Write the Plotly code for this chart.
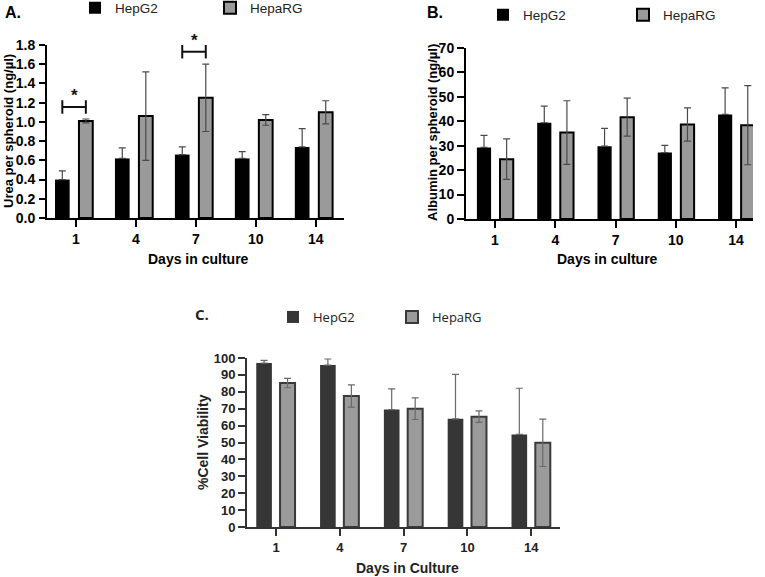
import plotly.graph_objects as go

W, H = 765, 577

days = ["1", "4", "7", "10", "14"]
series_names = ["HepG2", "HepaRG"]

urea_hepg2 = [0.40, 0.62, 0.66, 0.62, 0.74]
urea_hepg2_err = [0.09, 0.11, 0.08, 0.07, 0.19]
urea_heparg = [1.01, 1.06, 1.25, 1.02, 1.10]
urea_heparg_err = [0.02, 0.46, 0.35, 0.055, 0.12]

alb_hepg2 = [29.3, 39.4, 29.8, 27.2, 42.8]
alb_hepg2_err = [4.9, 6.8, 7.3, 2.9, 10.9]
alb_heparg = [24.5, 35.4, 41.7, 38.7, 38.4]
alb_heparg_err = [8.3, 13.0, 7.8, 6.8, 16.2]

via_hepg2 = [97.0, 95.8, 69.5, 64.0, 54.8]
via_hepg2_err = [1.6, 3.6, 12.2, 26.3, 27.3]
via_heparg = [85.2, 77.5, 70.0, 65.3, 49.8]
via_heparg_err = [2.8, 6.6, 6.4, 3.4, 14.0]

# significance brackets on panel A: (day, bracket level, label)
urea_sig = [("1", 1.155, "*"), ("7", 1.73, "*")]

def px(x):
    return x / W

def py(y):
    return 1 - y / H

fig = go.Figure()

panels = [
    dict(key="", legend="legend", data=(urea_hepg2, urea_hepg2_err, urea_heparg, urea_heparg_err),
         c1="#000000", c2="#9a9a9a", line2="#000000", err="#4a4a4a",
         off1=-0.35, w1=0.245, off2=0.05, w2=0.23),
    dict(key="2", legend="legend2", data=(alb_hepg2, alb_hepg2_err, alb_heparg, alb_heparg_err),
         c1="#000000", c2="#9a9a9a", line2="#000000", err="#4a4a4a",
         off1=-0.30, w1=0.235, off2=0.083, w2=0.22),
    dict(key="3", legend="legend3", data=(via_hepg2, via_hepg2_err, via_heparg, via_heparg_err),
         c1="#363636", c2="#9b9b9b", line2="#3a3a3a", err="#6a6a6a",
         off1=-0.31, w1=0.245, off2=0.063, w2=0.235),
]

for p in panels:
    v1, e1, v2, e2 = p["data"]
    fig.add_trace(go.Bar(
        x=days, y=v1, name=series_names[0], legend=p["legend"],
        xaxis="x" + p["key"], yaxis="y" + p["key"],
        offset=p["off1"], width=p["w1"],
        marker=dict(color=p["c1"], line=dict(color=p["c1"], width=0)),
        error_y=dict(type="data", symmetric=False, array=e1, arrayminus=[0] * len(e1),
                     color=p["err"], thickness=1.2, width=3.5),
    ))
    fig.add_trace(go.Bar(
        x=days, y=v2, name=series_names[1], legend=p["legend"],
        xaxis="x" + p["key"], yaxis="y" + p["key"],
        offset=p["off2"], width=p["w2"],
        marker=dict(color=p["c2"], line=dict(color=p["line2"], width=2)),
        error_y=dict(type="data", array=e2, color=p["err"], thickness=1.2, width=3.5),
    ))

tickfont = dict(family="Liberation Sans, Arial", size=14, color="#000", weight="bold")
tickfont_c = dict(family="Liberation Sans, Arial", size=13, color="#222", weight="bold")

def xaxis(domain, rng, anchor, color="#000", font=tickfont):
    return dict(domain=domain, anchor=anchor, type="category", range=rng,
                showline=True, linecolor=color, linewidth=2, ticks="outside",
                ticklen=7, tickwidth=2, tickcolor=color, showgrid=False,
                zeroline=False, tickfont=font, fixedrange=True, automargin=False)

def yaxis(domain, rng, dtick, fmt, anchor, tl, so, color="#000", font=tickfont):
    return dict(domain=domain, anchor=anchor, range=rng, dtick=dtick, tick0=0, tickformat=fmt,
                showline=True, linecolor=color, linewidth=2, ticks="outside",
                ticklen=tl, tickwidth=2, tickcolor=color, showgrid=False,
                zeroline=False, tickfont=font, ticklabelstandoff=so, automargin=False,
                fixedrange=True)

xa = xaxis([px(47), px(344)], [-0.483, 4.47], "y")
ya = yaxis([py(218), py(45)], [0, 1.8], 0.2, ".1f", "x", 6, 1)
xb = xaxis([px(466), px(753)], [-0.481, 4.28], "y2")
yb = yaxis([py(219), py(48)], [0, 70], 10, "d", "x2", 7, 0)
xc = xaxis([px(247), px(560)], [-0.455, 4.45], "y3", color="#333", font=tickfont_c)
yc = yaxis([py(527), py(358)], [0, 100], 10, "d", "x3", 7, 0, color="#333", font=tickfont_c)

legfont = dict(family="Liberation Sans, Arial", size=13.5, color="#222")
legfont_c = dict(family="Open Sans, Noto Sans", size=13, color="#222")

def legend(x, y, font, ew):
    return dict(orientation="h", x=x, y=y, xanchor="left", yanchor="middle",
                font=font, entrywidth=ew, entrywidthmode="pixels",
                bgcolor="rgba(0,0,0,0)", traceorder="normal", itemclick=False)

fig.update_layout(
    width=W, height=H, margin=dict(l=0, r=0, t=0, b=0, autoexpand=False),
    paper_bgcolor="#ffffff", plot_bgcolor="#ffffff",
    barmode="overlay", showlegend=True,
    xaxis=xa, yaxis=ya, xaxis2=xb, yaxis2=yb, xaxis3=xc, yaxis3=yc,
    legend=legend(px(75), py(8), legfont, 90),
    legend2=legend(px(483), py(15), legfont, 95),
    legend3=legend(px(273), py(317), legfont_c, 74),
)

# significance brackets
off1, w1, off2, w2 = panels[0]["off1"], panels[0]["w1"], panels[0]["off2"], panels[0]["w2"]
for day, level, label in urea_sig:
    i = days.index(day)
    xl = i + off1 + w1 / 2
    xr = i + off2 + w2 / 2
    for (x0, y0, x1, y1) in [(xl, level, xr, level), (xl, level - 0.07, xl, level + 0.07),
                             (xr, level - 0.07, xr, level + 0.07)]:
        fig.add_shape(type="line", xref="x", yref="y", x0=x0, y0=y0, x1=x1, y1=y1,
                      line=dict(color="#111", width=2))
    fig.add_annotation(x=(xl + xr) / 2, y=level, xref="x", yref="y", text=label,
                       yshift=11, showarrow=False,
                       font=dict(family="Liberation Sans, Arial", size=17,
                                 color="#111", weight="bold"))

titlefont = dict(family="Liberation Sans, Arial", size=13, color="#000", weight="bold")
xtitlefont = dict(family="Liberation Sans, Arial", size=14, color="#000", weight="bold")
texts = [
    ("Urea per spheroid (ng/µl)", 9, 131, -90, titlefont),
    ("Albumin per spheroid (ng/µl)", 432, 133, -90, titlefont),
    ("%Cell Viability", 203, 442, -90, dict(family="Liberation Sans, Arial", size=14, color="#222", weight="bold")),
    ("Days in culture", 198, 259, 0, xtitlefont),
    ("Days in culture", 607, 259, 0, xtitlefont),
    ("Days in Culture", 407, 568, 0, dict(family="Liberation Sans, Arial", size=14, color="#222", weight="bold")),
    ("A.", 13, 12, 0, dict(family="Liberation Sans, Arial", size=16, color="#000", weight="bold")),
    ("B.", 435, 12, 0, dict(family="Liberation Sans, Arial", size=16, color="#000", weight="bold")),
    ("C.", 202, 314, 0, dict(family="Open Sans, Noto Sans", size=15, color="#222", weight="bold")),
]
for t, x, y, ang, f in texts:
    fig.add_annotation(text=t, x=px(x), y=py(y), xref="paper", yref="paper",
                       xanchor="center", yanchor="middle", textangle=ang,
                       showarrow=False, font=f)

fig.write_html("out.html", config={"displayModeBar": False},
               post_script="document.body.style.margin='0';")
